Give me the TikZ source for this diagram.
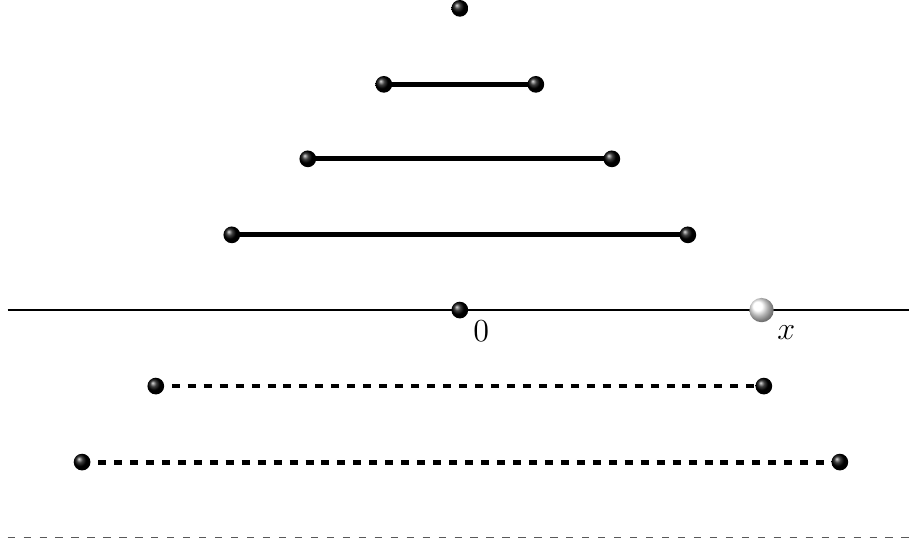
\documentclass[tikz,border=0pt]{standalone}
\usetikzlibrary{shadings}
\begin{document}
\begin{tikzpicture}[
  blackball/.style={circle,inner sep=0pt,minimum size=0.22cm,shading=ball,ball color=black},
  whiteball/.style={circle,inner sep=0pt,minimum size=0.32cm,shading=ball,ball color=white},
  seg/.style={line width=1.8pt},
  dseg/.style={line width=1.8pt,dash pattern=on 0.105cm off 0.105cm},
  axis/.style={line width=0.8pt},
  guide/.style={line width=0.45pt,gray!70!black,dash pattern=on 0.095cm off 0.115cm},
  lab/.style={anchor=north west,inner sep=0pt,font=\large}
]
\useasboundingbox (-6.05,-3.09) rectangle (5.91,4.08);
% axis
\coordinate (axL) at (-5.95,0);
\coordinate (axR) at (5.91,0);
\draw[axis] (axL) -- (axR);
% bottom guide
\coordinate (gL) at (-5.95,-2.99);
\coordinate (gR) at (5.91,-2.99);
\draw[guide] (gL) -- (gR);
% segments
\node[blackball] (t0) at (0,3.97) {};
\draw[seg] (-1,2.97) coordinate (a1) -- (1,2.97) coordinate (b1);
\draw[seg] (-2,1.99) coordinate (a2) -- (2,1.99) coordinate (b2);
\draw[seg] (-3,0.99) coordinate (a3) -- (3,0.99) coordinate (b3);
\draw[dseg] (-4,-1) coordinate (a4) -- (4,-1) coordinate (b4);
\draw[dseg] (-4.97,-2) coordinate (a5) -- (5,-2) coordinate (b5);
\foreach \p in {a1,b1,a2,b2,a3,b3,a4,b4,a5,b5}
  \node[blackball] (n\p) at (\p) {};
% axis points
\node[blackball] (zero) at (0,0) {};
\node[whiteball] (xpt) at (3.97,0) {};
\node[lab] (zl) at (0.17,-0.14) {$0$};
\node[lab] (xl) at (4.17,-0.2) {$x$};
\end{tikzpicture}
\end{document}
